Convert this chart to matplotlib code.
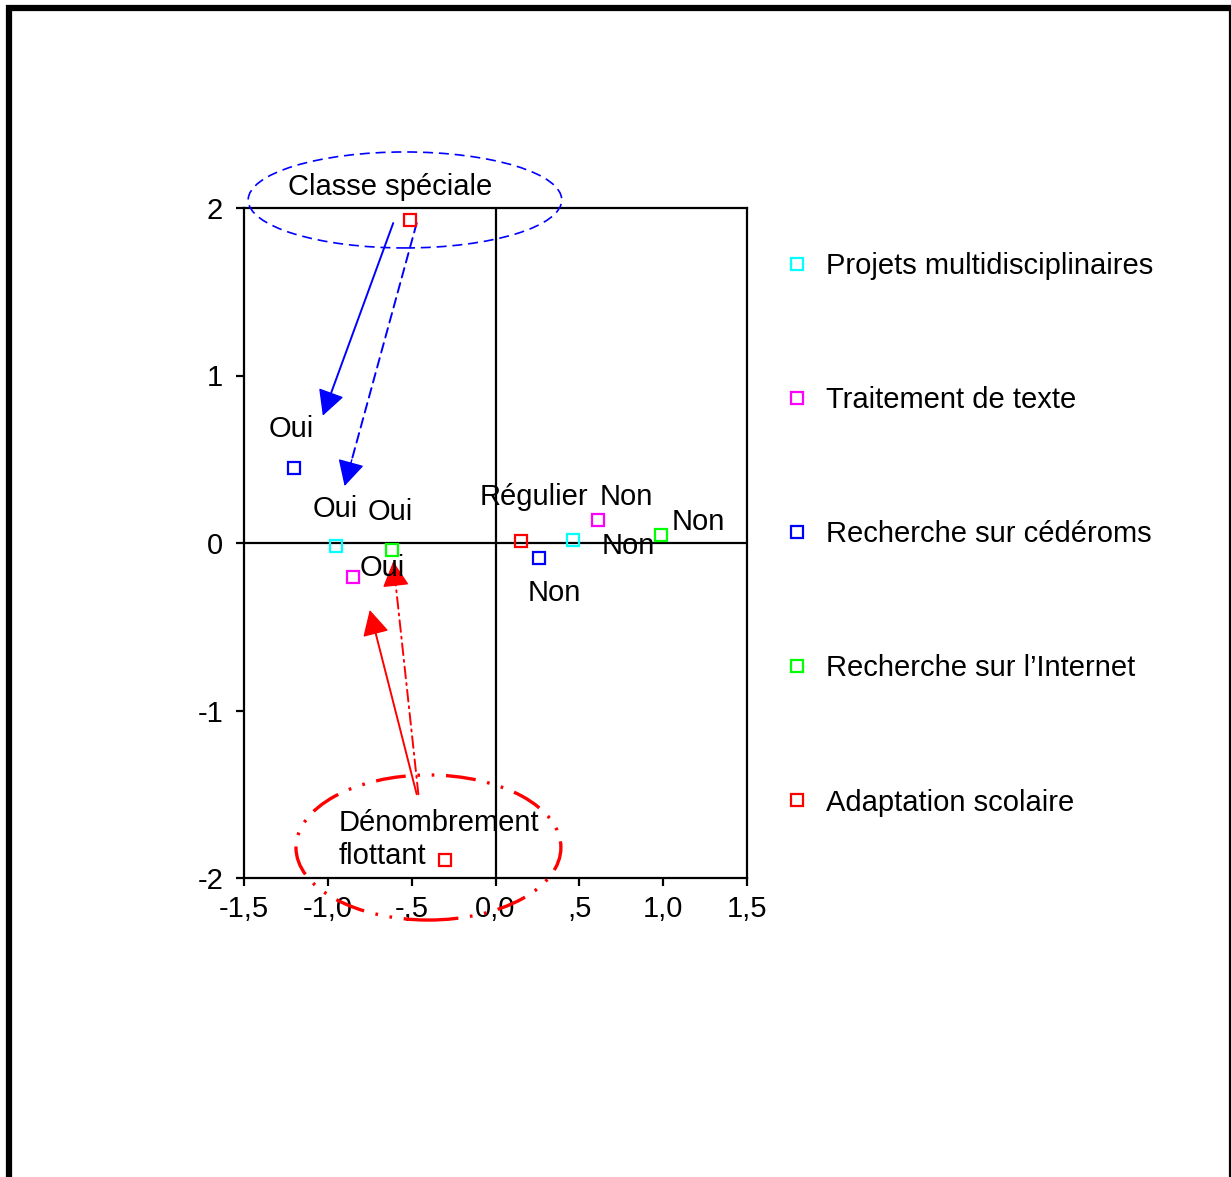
import matplotlib
matplotlib.use("Agg")
import matplotlib.pyplot as plt
from matplotlib.patches import Ellipse
from matplotlib.lines import Line2D

plt.rcParams['font.family'] = ['Liberation Sans', 'DejaVu Sans']

# ---- data -------------------------------------------------------------
variables = ["Projets multidisciplinaires", "Traitement de texte",
             "Recherche sur cédéroms", "Recherche sur l\u2019Internet",
             "Adaptation scolaire"]
colors = ["#00FFFF", "#FF00FF", "#0000FF", "#00FF00", "#FF0000"]

proj_x = [-0.95, 0.46]
proj_y = [-0.02, 0.02]
texte_x = [-0.85, 0.61]
texte_y = [-0.20, 0.14]
cd_x = [-1.20, 0.26]
cd_y = [0.45, -0.09]
inet_x = [-0.62, 0.99]
inet_y = [-0.04, 0.05]
adapt_x = [-0.51, -0.30, 0.15]
adapt_y = [1.93, -1.89, 0.01]

xs = [proj_x, texte_x, cd_x, inet_x, adapt_x]
ys = [proj_y, texte_y, cd_y, inet_y, adapt_y]

x_ticks = [-1.5, -1.0, -0.5, 0.0, 0.5, 1.0, 1.5]
x_ticklabels = ["-1,5", "-1,0", "-,5", "0,0", ",5", "1,0", "1,5"]
y_ticks = [-2, -1, 0, 1, 2]
y_ticklabels = ["-2", "-1", "0", "1", "2"]

# category labels: (text, x, y)
labels = [("Oui", -1.22, 0.68), ("Oui", -0.957, 0.205), ("Oui", -0.629, 0.187),
          ("Oui", -0.677, -0.152), ("Régulier", 0.23, 0.272), ("Non", 0.778, 0.272),
          ("Non", 1.208, 0.128), ("Non", 0.79, -0.02), ("Non", 0.349, -0.30),
          ("Classe spéciale", -0.629, 2.128)]

# ---- figure -----------------------------------------------------------
W, H = 1231, 1177
fig = plt.figure(figsize=(W / 100, H / 100), dpi=100)
ax = fig.add_axes([244 / W, 1 - 878 / H, 503 / W, 670 / H])

FS = 21
for xv, yv, c in zip(xs, ys, colors):
    ax.plot(xv, yv, linestyle='none', marker='s', markersize=8.5,
            markerfacecolor='none', markeredgecolor=c, markeredgewidth=1.6,
            clip_on=False, zorder=5)

ax.axhline(0, color='black', lw=1.6, zorder=2)
ax.axvline(0, color='black', lw=1.6, zorder=2)

ax.set_xlim(-1.5, 1.5)
ax.set_ylim(-2, 2)
ax.set_xticks(x_ticks)
ax.set_xticklabels(x_ticklabels)
ax.set_yticks(y_ticks)
ax.set_yticklabels(y_ticklabels)
ax.tick_params(direction='out', length=6, width=1.6, labelsize=FS, pad=6)
ax.tick_params(axis='y', pad=9)
for s in ax.spines.values():
    s.set_linewidth(1.6)

for t, x, y in labels:
    ax.text(x, y, t, fontsize=FS, ha='center', va='center', zorder=6)
ax.text(-0.933, -1.672, "Dénombrement", fontsize=FS, ha='left', va='center', zorder=6)
ax.text(-0.933, -1.869, "flottant", fontsize=FS, ha='left', va='center', zorder=6)

# ellipses
e1 = Ellipse((-0.54, 2.048), 1.87, 0.573, fill=False, edgecolor='#0000FF',
             lw=1.2, linestyle=(0, (6, 3.5)), clip_on=False, zorder=4)
ax.add_patch(e1)
e2 = Ellipse((-0.40, -1.818), 1.58, 0.866, fill=False, edgecolor='#FF0000',
             lw=2.4, linestyle=(0, (9, 3.5, 0.8, 3.5, 0.8, 3.5)), clip_on=False, zorder=4)
ax.add_patch(e2)

# arrows: dashed/solid shaft + solid filled head
def arrow(x0, y0, x1, y1, color, ls):
    ax.annotate("", xy=(x1, y1), xytext=(x0, y0),
                arrowprops=dict(arrowstyle="-", color=color, lw=1.4, linestyle=ls,
                                shrinkA=0, shrinkB=8),
                annotation_clip=False, zorder=4)
    f = 0.9
    ax.annotate("", xy=(x1, y1), xytext=(x0 + f * (x1 - x0), y0 + f * (y1 - y0)),
                arrowprops=dict(arrowstyle="-|>,head_length=0.8,head_width=0.42",
                                mutation_scale=20, color=color, lw=1.0,
                                shrinkA=0, shrinkB=0),
                annotation_clip=False, zorder=4)

arrow(-0.61, 1.91, -1.03, 0.76, '#0000FF', '-')
arrow(-0.47, 1.91, -0.90, 0.34, '#0000FF', (0, (5, 3)))
arrow(-0.47, -1.50, -0.75, -0.40, '#FF0000', '-')
arrow(-0.46, -1.50, -0.61, -0.11, '#FF0000', (0, (6, 2.5, 1, 2.5)))

# legend
handles = [Line2D([], [], linestyle='none', marker='s', markersize=8.5,
                  markerfacecolor='none', markeredgecolor=c, markeredgewidth=1.6)
           for c in colors]
fig.legend(handles, variables, loc='upper left', bbox_to_anchor=(785 / W, 1 - 252 / H),
           frameon=False, fontsize=FS, labelspacing=3.64, handlelength=0.8,
           handletextpad=0.6, borderpad=0, borderaxespad=0)

# frame lines
fig.add_artist(Line2D([6 / W, 1.0], [1 - 8 / H, 1 - 8 / H], color='black', lw=4.5,
                      transform=fig.transFigure, solid_capstyle='butt'))
fig.add_artist(Line2D([9 / W, 9 / W], [0, 1 - 5 / H], color='black', lw=4.5,
                      transform=fig.transFigure, solid_capstyle='butt'))
fig.add_artist(Line2D([1229.5 / W, 1229.5 / W], [0, 1 - 8 / H], color='black', lw=1.6,
                      transform=fig.transFigure, solid_capstyle='butt'))

fig.savefig("out.png", dpi=100, facecolor='white')
